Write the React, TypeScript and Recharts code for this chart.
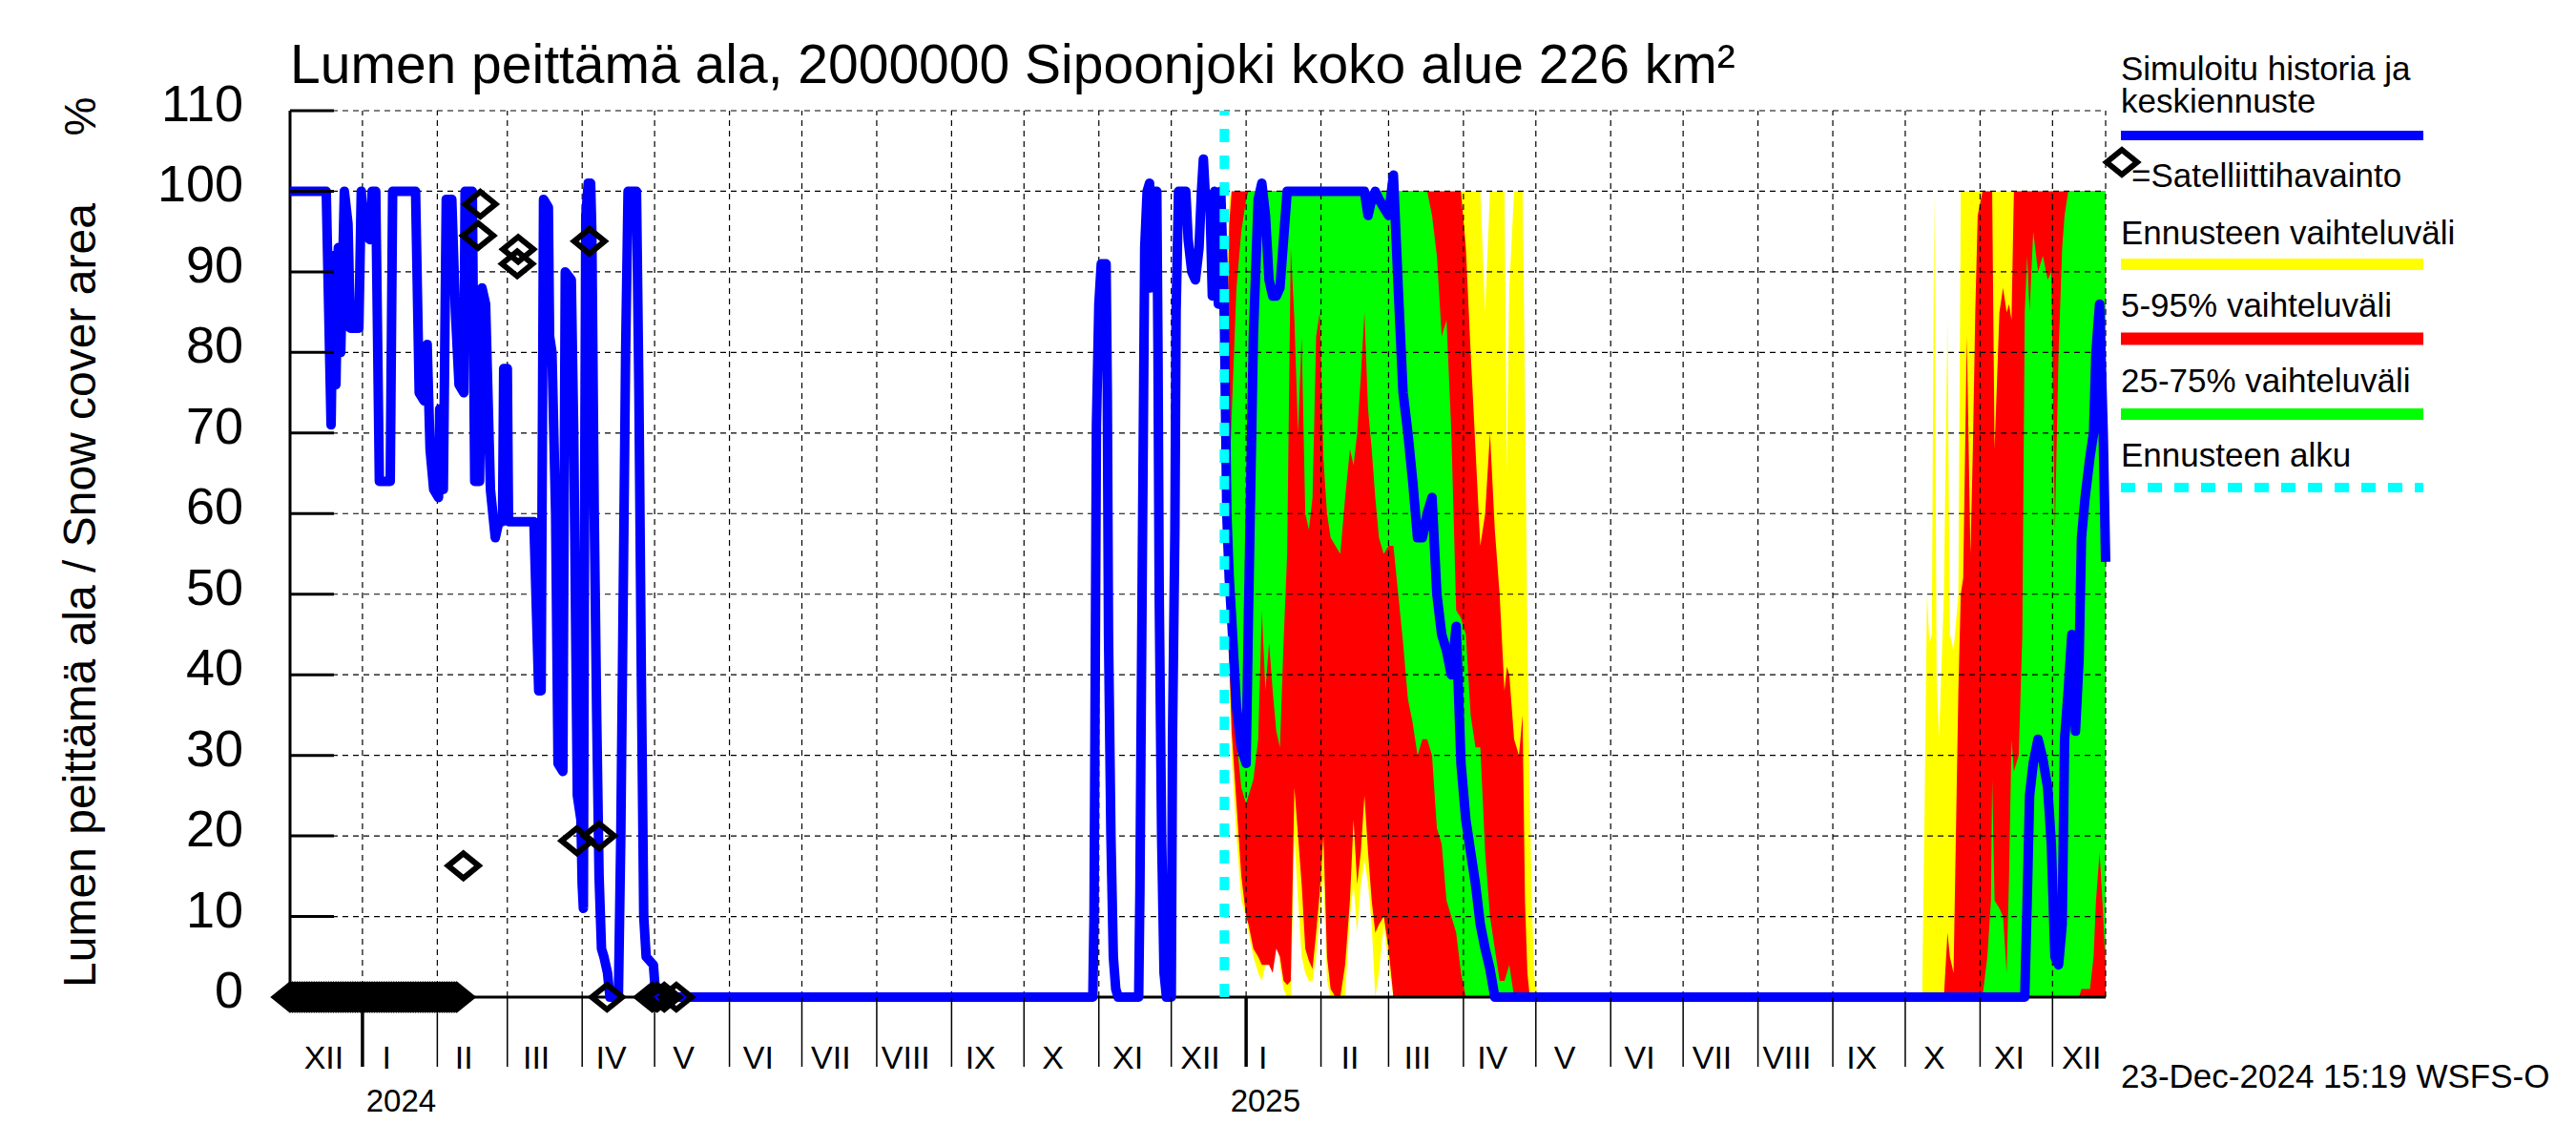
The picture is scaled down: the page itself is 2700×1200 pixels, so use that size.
import React from 'react';
import { ComposedChart, Line, Area, Scatter, XAxis, YAxis } from 'recharts';

// ---------------- DATA (day index = days since 1 Dec 2023) ----------------
const historyDays = [
  1, 16, 18, 19, 20, 21, 22, 23.5, 25, 26,
  29.5, 30.5, 31.5, 34, 35, 36.5, 38, 42.5, 43.5, 53,
  54.5, 56.5, 57.8, 59, 60.5, 62.5, 63, 64.5, 65.7, 68,
  69.5, 71, 73, 73.5, 76.5, 77.5, 79.5, 80.5, 82, 84,
  86, 87.5, 89, 89.5, 91, 91.5, 102, 104, 105, 106,
  108, 108.5, 109.5, 111, 112, 114, 115, 117.5, 118.5, 120,
  121.5, 122, 122.5, 123, 123.5, 124.5, 125.5, 126, 127, 128,
  129, 130, 131, 132.5, 133.5, 137, 138, 140, 141, 144.5,
  145.5, 146.5, 147.5, 148.5, 151.5, 152.5, 333.5, 334, 334.5, 335,
  336, 337, 339, 339.5, 340, 341, 342, 343, 344, 352.5,
  353, 354, 355, 356, 357, 357.5, 358, 360, 360.5, 361,
  362, 363, 364, 366, 366.5, 367.5, 368, 369, 372, 373,
  374.5, 376, 377.5, 378.5, 379.3, 380, 382, 383, 384, 385.5,
  386.5, 387.5,
];
const historyValues = [
  100, 100, 71, 92, 76, 93, 80, 100, 96, 83,
  83, 100, 95, 94, 100, 100, 64, 64, 100, 100,
  75, 74, 81, 68, 63, 62, 73, 63, 99, 99,
  85, 76, 75, 100, 100, 64, 64, 88, 86, 63,
  57, 59, 59, 78, 78, 59, 59, 38, 38, 99,
  98, 82, 80, 60, 29, 28, 90, 89, 70, 25,
  22, 14, 11, 60, 97, 101, 101, 95, 60, 35,
  15, 6, 5, 3, 0, 0, 20, 80, 100, 100,
  75, 40, 10, 5, 4, 0, 0, 10, 40, 71,
  86, 91, 91, 75, 45, 20, 5, 1, 0, 0,
  13, 54, 93, 100, 101, 88, 100, 100, 80, 50,
  20, 3, 0, 0, 32, 58, 85, 100, 100, 94,
  90, 89, 93, 100, 104, 100, 99, 87, 100, 86,
  100, 90,
];

// forecast winter 2025
const winterDays = [
  388, 389, 390, 391, 393, 395, 397, 398, 400, 402,
  403.5, 405, 406.5, 408, 409.5, 411, 412.5, 414, 415.5, 417,
  418.5, 420, 421.5, 423, 424.5, 426, 427.5, 429, 430.5, 432,
  434, 436, 438, 440, 441.5, 443, 444.5, 446, 447.5, 449,
  450.5, 452, 454, 456, 458, 460, 462, 464, 466, 468,
  470, 472, 474, 476, 478, 480, 482, 484, 486, 488,
  490, 492, 494, 496, 498, 500, 502, 504, 505, 506,
  508, 510, 511.5, 512.5, 513.5, 514.5, 515.5, 516.5, 518, 520,
];
const winterMin = [
  80, 52, 40, 30, 20, 12, 10, 8, 5, 3,
  2, 4, 6, 7, 8, 4, 1, 0, 0, 20,
  12, 5, 3, 2, 2, 5, 10, 15, 2, 0,
  0, 0, 0, 10, 14, 8, 14, 17, 14, 9,
  0, 3, 9, 4, 0, 0, 0, 0, 0, 0,
  0, 0, 0, 0, 0, 0, 0, 0, 0, 0,
  0, 0, 0, 0, 0, 0, 0, 0, 0, 0,
  0, 0, 0, 0, 0, 0, 0, 0, 0, 0,
];
const winterP5 = [
  82, 55, 42, 33, 24, 15, 10, 9, 6, 5,
  4, 4, 4, 3, 6, 5, 2, 1.5, 2, 26,
  20, 14, 6, 4.5, 3.5, 8, 13, 20, 5, 1,
  0, 0, 4, 12, 22, 14, 18, 25, 18, 12,
  8, 9, 10, 6, 0, 0, 0, 0, 0, 0,
  0, 0, 0, 0, 0, 0, 0, 0, 0, 0,
  0, 0, 0, 0, 0, 0, 0, 0, 0, 0,
  0, 0, 0, 0, 0, 0, 0, 0, 0, 0,
];
const winterP25 = [
  83, 57, 45, 38, 32, 26, 24, 25, 27, 32,
  48, 38, 44, 38, 33, 31, 44, 55, 93, 84,
  70, 82, 60, 58, 62, 82, 85, 67, 60, 57,
  56, 55, 62, 68, 66, 70, 77, 85, 73, 68,
  62, 57, 55, 56, 56, 50, 44, 37, 34, 30,
  32, 32, 30, 21, 19, 12, 10, 8, 3, 0,
  0, 0, 0, 0, 0, 0, 0, 0, 0, 0,
  0, 0, 0, 0, 0, 0, 0, 0, 0, 0,
];
const winterMedian = [
  84, 60, 52, 47, 36, 31, 29, 48, 82, 99,
  101, 97, 89, 87, 87, 88, 94, 100, 100, 100,
  100, 100, 100, 100, 100, 100, 100, 100, 100, 100,
  100, 100, 100, 100, 100, 100, 100, 100, 97, 99,
  100, 99, 98, 97, 102, 88, 75, 70, 64, 57,
  57, 60, 62, 50, 45, 43, 40, 46, 29, 22,
  18, 14, 9, 6, 3.5, 0, 0, 0, 0, 0,
  0, 0, 0, 0, 0, 0, 0, 0, 0, 0,
];
const winterP75 = [
  85, 66, 62, 72, 88, 95, 99, 100, 100, 100,
  100, 100, 100, 100, 100, 100, 100, 100, 100, 100,
  100, 100, 100, 100, 100, 100, 100, 100, 100, 100,
  100, 100, 100, 100, 100, 100, 100, 100, 100, 100,
  100, 100, 100, 100, 100, 100, 100, 100, 100, 100,
  100, 100, 97, 92, 82, 84, 70, 48, 47, 45,
  35, 31, 31, 18, 10, 6, 2, 2, 3, 4,
  0, 0, 0, 0, 0, 0, 0, 0, 0, 0,
];
const winterP95 = [
  87, 78, 96, 100, 100, 100, 100, 100, 100, 100,
  100, 100, 100, 100, 100, 100, 100, 100, 100, 100,
  100, 100, 100, 100, 100, 100, 100, 100, 100, 100,
  100, 100, 100, 100, 100, 100, 100, 100, 100, 100,
  100, 100, 100, 100, 100, 100, 100, 100, 100, 100,
  100, 100, 100, 100, 100, 100, 100, 100, 100, 93,
  80, 68, 56, 60, 70, 58, 50, 38, 41, 40,
  32, 30, 35, 12, 3, 0, 0, 0, 0, 0,
];
const winterMax = [
  89, 85, 99, 100, 100, 100, 100, 100, 100, 100,
  100, 100, 100, 100, 100, 100, 100, 100, 100, 100,
  100, 100, 100, 100, 100, 100, 100, 100, 100, 100,
  100, 100, 100, 100, 100, 100, 100, 100, 100, 100,
  100, 100, 100, 100, 100, 100, 100, 100, 100, 100,
  100, 100, 100, 100, 100, 100, 100, 100, 100, 100,
  100, 100, 100, 85, 100, 100, 100, 100, 65, 88,
  100, 100, 100, 75, 45, 25, 10, 2, 0, 0,
];

// forecast autumn 2025
const autumnDays = [
  677, 678, 679, 680, 681, 682, 683, 684, 686, 687.5,
  688.5, 690, 692, 693, 694, 695.5, 697, 698, 699, 700,
  702, 704, 705.5, 706, 707, 709, 710.5, 712, 713, 714,
  715, 717, 718.5, 719.5, 720.5, 721.5, 723, 725, 727, 729,
  730.5, 732, 733.5, 735, 736, 737.5, 739, 740.5, 742, 743,
  744.5, 746.5, 748, 749, 750.5, 752, 753,
];
const autumnMin = [
  0, 0, 0, 0, 0, 0, 0, 0, 0, 0,
  0, 0, 0, 0, 0, 0, 0, 0, 0, 0,
  0, 0, 0, 0, 0, 0, 0, 0, 0, 0,
  0, 0, 0, 0, 0, 0, 0, 0, 0, 0,
  0, 0, 0, 0, 0, 0, 0, 0, 0, 0,
  0, 0, 0, 0, 0, 0, 0,
];
const autumnP5 = [
  0, 0, 0, 0, 0, 0, 0, 0, 0, 0,
  0, 0, 0, 0, 0, 0, 0, 0, 0, 0,
  0, 0, 0, 0, 0, 0, 0, 0, 0, 0,
  0, 0, 0, 0, 0, 0, 0, 0, 0, 0,
  0, 0, 0, 0, 0, 0, 0, 0, 0, 0,
  0, 0, 0, 0, 0, 0, 0,
];
const autumnP25 = [
  0, 0, 0, 0, 0, 0, 0, 0, 0, 0,
  0, 0, 0, 0, 0, 0, 0, 0, 0, 0,
  0, 0, 0, 0, 0, 0, 0, 0, 0, 0,
  0, 0, 0, 0, 0, 0, 0, 0, 0, 0,
  0, 0, 0, 0, 0, 0, 0, 0, 0, 1,
  1, 1, 5, 12, 18, 10, 3,
];
const autumnMedian = [
  0, 0, 0, 0, 0, 0, 0, 0, 0, 0,
  0, 0, 0, 0, 0, 0, 0, 0, 0, 0,
  0, 0, 0, 0, 0, 0, 0, 0, 0, 0,
  0, 0, 0, 0, 12, 25, 29, 32, 29.5, 26,
  19, 5, 4, 9, 32, 38, 45, 33, 42, 57,
  62, 67, 70, 80, 86, 70, 54,
];
const autumnP75 = [
  0, 0, 0, 0, 0, 0, 0, 0, 0, 0,
  0, 0, 0, 0, 0, 0, 0, 0, 0, 0,
  0, 5, 12, 27, 12, 11, 10, 3, 15, 32,
  28, 30, 45, 85, 92, 85, 95, 90, 92, 89,
  90, 58, 80, 93, 97, 100, 100, 100, 100, 100,
  100, 100, 100, 100, 100, 100, 100,
];
const autumnP95 = [
  0, 0, 0, 0, 0, 0, 0, 0, 0, 8,
  5, 3, 38, 50, 52, 82, 55, 68, 85, 97,
  100, 100, 100, 100, 68, 85, 88, 85, 86, 84,
  100, 100, 100, 100, 100, 100, 100, 100, 100, 100,
  100, 100, 100, 100, 100, 100, 100, 100, 100, 100,
  100, 100, 100, 100, 100, 100, 100,
];
const autumnMax = [
  0, 23, 50, 44, 45, 100, 40, 32, 50, 84,
  45, 43, 50, 100, 100, 100, 100, 100, 100, 100,
  100, 100, 100, 100, 100, 100, 100, 100, 100, 100,
  100, 100, 100, 100, 100, 100, 100, 100, 100, 100,
  100, 100, 100, 100, 100, 100, 100, 100, 100, 100,
  100, 100, 100, 100, 100, 100, 100,
];

// satellite observations
const satelliteZeroDays = [
  1, 2, 3, 4, 5, 6, 7, 8, 9, 10, 11, 12, 13, 14, 15, 16, 17, 18, 19, 20,
  21, 22, 23, 24, 25, 26, 27, 28, 29, 30, 31, 32, 33, 34, 35, 36, 37, 38, 39, 40,
  41, 42, 43, 44, 45, 46, 47, 48, 49, 50, 51, 52, 53, 54, 55, 56, 57, 58, 59, 60,
  61, 62, 63, 64, 65, 66, 67, 68, 69, 70,
];
const satelliteDays = [72.8, 78.9, 79.8, 95.1, 95.5, 119.8, 125, 129, 132.3, 151, 153, 156, 161];
const satelliteValues = [16.3, 94.5, 98.4, 91, 92.8, 19.4, 93.8, 20, 0, 0, 0, 0, 0];

// axis categories
const X_DOMAIN = [1, 753];
const FORECAST_START = 388;
const monthStarts = [0, 31, 62, 91, 122, 152, 183, 213, 244, 275, 305, 336, 366, 397, 428, 456, 487, 517, 548, 578, 609, 640, 670, 701, 731];
const monthLabelDays = [15, 41, 73, 103, 134, 164, 195, 225, 256, 287, 317, 348, 378, 404, 440, 468, 499, 529, 560, 590, 621, 652, 682, 713, 743];
const monthNames = ['XII', 'I', 'II', 'III', 'IV', 'V', 'VI', 'VII', 'VIII', 'IX', 'X', 'XI', 'XII', 'I', 'II', 'III', 'IV', 'V', 'VI', 'VII', 'VIII', 'IX', 'X', 'XI', 'XII'];
const yearStarts = [31, 397];
const yearLabelDays = [47, 405];
const yearNames = ['2024', '2025'];
const yTicks = [0, 10, 20, 30, 40, 50, 60, 70, 80, 90, 100, 110];

// ---------------- derived tables ----------------
function buildRows(days: number[], mn: number[], p5: number[], p25: number[], med: number[], p75: number[], p95: number[], mx: number[]) {
  return days.map((d, i) => ({ d, min: mn[i], p5: p5[i], p25: p25[i], med: med[i], p75: p75[i], p95: p95[i], max: mx[i] }));
}
const forecastRows = [
  ...buildRows(winterDays, winterMin, winterP5, winterP25, winterMedian, winterP75, winterP95, winterMax),
  ...buildRows(autumnDays, autumnMin, autumnP5, autumnP25, autumnMedian, autumnP75, autumnP95, autumnMax),
];
const blueData = [
  ...historyDays.map((d, i) => ({ d, v: historyValues[i] })),
  ...forecastRows.map((r) => ({ d: r.d, v: r.med })),
];
const satData = [
  ...satelliteZeroDays.map((d) => ({ d, v: 0 })),
  ...satelliteDays.map((d, i) => ({ d, v: satelliteValues[i] })),
];

const tickInfo = new Map<number, { kind: string; text?: string }>();
monthStarts.forEach((s, i) => {
  if (s > X_DOMAIN[0] && s < X_DOMAIN[1]) tickInfo.set(s, { kind: yearStarts.includes(s) ? 'yearline' : 'line' });
  tickInfo.set(monthLabelDays[i], { kind: 'month', text: monthNames[i] });
});
yearLabelDays.forEach((s, i) => tickInfo.set(s, { kind: 'year', text: yearNames[i] }));
const xTicks = Array.from(tickInfo.keys()).sort((a, b) => a - b);

const hGrid = yTicks.filter((v) => v > 0);
const vGrid = [...monthStarts.filter((s) => s > X_DOMAIN[0] && s < X_DOMAIN[1]), X_DOMAIN[1]];

const FONT = "'Liberation Sans', Arial, Helvetica, sans-serif";

const XTick = (props: any) => {
  const { x, y, payload } = props;
  const info = tickInfo.get(payload.value);
  if (!info) return null;
  if (info.kind === 'line' || info.kind === 'yearline') {
    return <line x1={x} x2={x} y1={y} y2={y + 73} stroke="#000" strokeWidth={info.kind === 'yearline' ? 3.5 : 1.5} />;
  }
  if (info.kind === 'month') {
    return (
      <text x={x} y={y + 75} textAnchor="middle" fontSize={34} fontFamily={FONT} fill="#000">
        {info.text}
      </text>
    );
  }
  return (
    <text x={x} y={y + 120} textAnchor="middle" fontSize={33} fontFamily={FONT} fill="#000">
      {info.text}
    </text>
  );
};

const YTick = (props: any) => {
  const { x, y, payload } = props;
  return (
    <g>
      <line x1={x} x2={x + 46} y1={y} y2={y} stroke="#000" strokeWidth={3} />
      <text x={x - 49} y={y + 11} textAnchor="end" fontSize={54} fontFamily={FONT} fill="#000">
        {payload.value}
      </text>
    </g>
  );
};

const Diamond = (props: any) => {
  const { cx, cy } = props;
  if (cx == null || cy == null) return null;
  return (
    <polygon
      points={`${cx - 16},${cy} ${cx},${cy - 13} ${cx + 16},${cy} ${cx},${cy + 13}`}
      fill="none"
      stroke="#000"
      strokeWidth={6}
    />
  );
};

const legendText = { fontSize: 35, fontFamily: FONT, fill: '#000' } as const;
const GRID_STYLE = { stroke: '#000', strokeWidth: 1.2, strokeDasharray: '6 5' };

export default function App() {
  return (
    <div style={{ position: 'absolute', left: 0, top: 0, width: 2700, height: 1200, background: '#fff' }}>
      <ComposedChart
        width={2700}
        height={1200}
        data={forecastRows}
        margin={{ top: 116, right: 493, bottom: 0, left: 0 }}
      >
        <XAxis
          dataKey="d"
          type="number"
          domain={X_DOMAIN}
          ticks={xTicks}
          interval={0}
          height={155}
          axisLine={false}
          tickLine={false}
          tickSize={0}
          tickMargin={0}
          tick={<XTick />}
        />
        <YAxis
          type="number"
          domain={[0, 110]}
          ticks={yTicks}
          interval={0}
          width={304}
          axisLine={false}
          tickLine={false}
          tickSize={0}
          tickMargin={0}
          tick={<YTick />}
        />
        <Area type="linear" dataKey={(r: any) => [r.min, r.max]} fill="#ffff00" fillOpacity={1} stroke="none" isAnimationActive={false} />
        <Area type="linear" dataKey={(r: any) => [r.p5, r.p95]} fill="#ff0000" fillOpacity={1} stroke="none" isAnimationActive={false} />
        <Area type="linear" dataKey={(r: any) => [r.p25, r.p75]} fill="#00ff00" fillOpacity={1} stroke="none" isAnimationActive={false} />
        {hGrid.map((v) => (
          <Line
            key={'h' + v}
            data={[{ d: X_DOMAIN[0], v }, { d: X_DOMAIN[1], v }]}
            dataKey="v"
            {...GRID_STYLE}
            dot={false}
            activeDot={false}
            isAnimationActive={false}
          />
        ))}
        {vGrid.map((d) => (
          <Line
            key={'v' + d}
            data={[{ d, v: 0 }, { d, v: 110 }]}
            dataKey="v"
            {...GRID_STYLE}
            dot={false}
            activeDot={false}
            isAnimationActive={false}
          />
        ))}
        <Line
          data={[{ d: X_DOMAIN[0], v: 0 }, { d: X_DOMAIN[0], v: 110 }]}
          dataKey="v"
          stroke="#000"
          strokeWidth={3}
          dot={false}
          activeDot={false}
          isAnimationActive={false}
        />
        <Line
          data={[{ d: X_DOMAIN[0], v: 0 }, { d: X_DOMAIN[1], v: 0 }]}
          dataKey="v"
          stroke="#000"
          strokeWidth={3}
          dot={false}
          activeDot={false}
          isAnimationActive={false}
        />
        <Line
          data={blueData}
          dataKey="v"
          type="linear"
          stroke="#0000ff"
          strokeWidth={10}
          strokeLinejoin="round"
          dot={false}
          activeDot={false}
          isAnimationActive={false}
        />
        <Line
          data={[{ d: FORECAST_START, v: 0 }, { d: FORECAST_START, v: 110 }]}
          dataKey="v"
          stroke="#00ffff"
          strokeWidth={10}
          strokeDasharray="14 14"
          dot={false}
          activeDot={false}
          isAnimationActive={false}
        />
        <Scatter data={satData} dataKey="v" shape={<Diamond />} isAnimationActive={false} />
      </ComposedChart>
      <svg width={2700} height={1200} style={{ position: 'absolute', left: 0, top: 0, pointerEvents: 'none' }}>
        <text x={304} y={87} fontSize={57} fontFamily={FONT} fill="#000">
          Lumen peittämä ala, 2000000 Sipoonjoki koko alue 226 km²
        </text>
        <text transform="translate(100,624) rotate(-90)" textAnchor="middle" fontSize={48} fontFamily={FONT} fill="#000">
          Lumen peittämä ala / Snow cover area
        </text>
        <text transform="translate(100,122) rotate(-90)" textAnchor="middle" fontSize={46} fontFamily={FONT} fill="#000">
          %
        </text>
        <text x={2223} y={84} {...legendText}>Simuloitu historia ja</text>
        <text x={2223} y={118} {...legendText}>keskiennuste</text>
        <line x1={2223} x2={2540} y1={142} y2={142} stroke="#0000ff" strokeWidth={10} />
        <polygon points="2208,170 2224,157 2240,170 2224,183" fill="none" stroke="#000" strokeWidth={6} />
        <text x={2234} y={196} {...legendText}>=Satelliittihavainto</text>
        <text x={2223} y={256} {...legendText}>Ennusteen vaihteluväli</text>
        <line x1={2223} x2={2540} y1={277} y2={277} stroke="#ffff00" strokeWidth={12} />
        <text x={2223} y={332} {...legendText}>5-95% vaihteluväli</text>
        <line x1={2223} x2={2540} y1={355} y2={355} stroke="#ff0000" strokeWidth={13} />
        <text x={2223} y={411} {...legendText}>25-75% vaihteluväli</text>
        <line x1={2223} x2={2540} y1={434} y2={434} stroke="#00ff00" strokeWidth={12} />
        <text x={2223} y={489} {...legendText}>Ennusteen alku</text>
        <line x1={2223} x2={2540} y1={511} y2={511} stroke="#00ffff" strokeWidth={10} strokeDasharray="15 13" />
        <text x={2223} y={1140} {...legendText}>23-Dec-2024 15:19 WSFS-O</text>
      </svg>
    </div>
  );
}
